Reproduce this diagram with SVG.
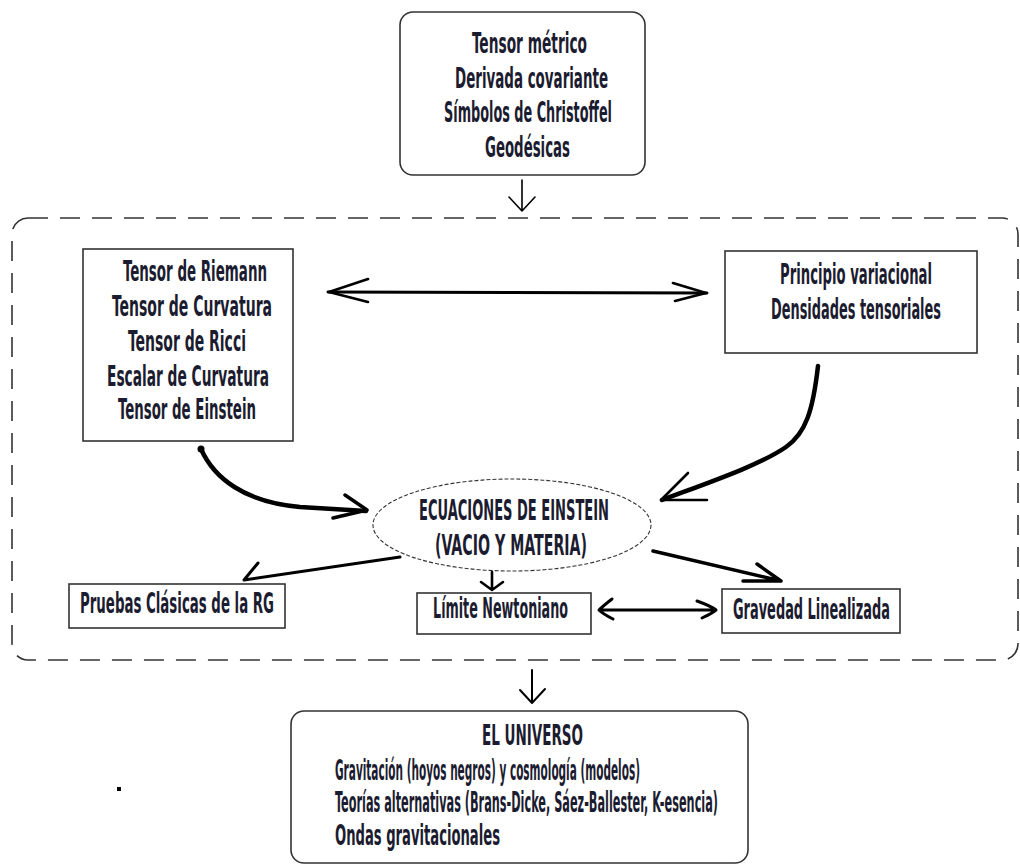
<svg xmlns="http://www.w3.org/2000/svg" width="1020" height="866" viewBox="0 0 1020 866">
<style>
.t{font-family:"DejaVu Sans Condensed","DejaVu Sans","Liberation Sans",sans-serif;font-size:28px;font-weight:bold;fill:#1c1c30;text-anchor:middle;}
.s{text-anchor:start;}
.box{fill:#fff;stroke:#333;stroke-width:1.6;}
.c{fill:none;stroke:#000;stroke-linecap:round;stroke-linejoin:round;}
</style>
<rect width="1020" height="866" fill="#fff"/>
<g id="container">
<rect x="12" y="218" width="1006" height="442" rx="16" fill="none" stroke="#333" stroke-width="1.6" stroke-dasharray="20 12"/>
</g>
<g id="top">
<rect class="box" x="400" y="12" width="245" height="163" rx="13"/>
<text class="t" transform="translate(529.5,53) scale(0.62,1)" textLength="185.5" lengthAdjust="spacingAndGlyphs">Tensor métrico</text>
<text class="t" transform="translate(531.5,88) scale(0.62,1)" textLength="246.8" lengthAdjust="spacingAndGlyphs">Derivada covariante</text>
<text class="t" transform="translate(528,122) scale(0.62,1)" textLength="271" lengthAdjust="spacingAndGlyphs">Símbolos de Christoffel</text>
<text class="t" transform="translate(527.5,157) scale(0.62,1)" textLength="137.1" lengthAdjust="spacingAndGlyphs">Geodésicas</text>
</g>
<g id="riemann">
<rect class="box" x="83" y="249" width="210" height="192"/>
<text class="t" transform="translate(195,281) scale(0.62,1)" textLength="232.3" lengthAdjust="spacingAndGlyphs">Tensor de Riemann</text>
<text class="t" transform="translate(192,316) scale(0.62,1)" textLength="258.1" lengthAdjust="spacingAndGlyphs">Tensor de Curvatura</text>
<text class="t" transform="translate(187,351) scale(0.62,1)" textLength="190.3" lengthAdjust="spacingAndGlyphs">Tensor de Ricci</text>
<text class="t" transform="translate(188,386) scale(0.62,1)" textLength="261.3" lengthAdjust="spacingAndGlyphs">Escalar de Curvatura</text>
<text class="t" transform="translate(187,419) scale(0.62,1)" textLength="222.6" lengthAdjust="spacingAndGlyphs">Tensor de Einstein</text>
</g>
<g id="principio">
<rect class="box" x="725" y="251" width="252" height="102"/>
<text class="t" transform="translate(856,284) scale(0.62,1)" textLength="245.2" lengthAdjust="spacingAndGlyphs">Principio variacional</text>
<text class="t" transform="translate(856,319) scale(0.62,1)" textLength="274.2" lengthAdjust="spacingAndGlyphs">Densidades tensoriales</text>
</g>
<g id="ecuaciones">
<ellipse cx="512" cy="525" rx="139" ry="46" fill="#fff" stroke="#333" stroke-width="1.1" stroke-dasharray="4 2"/>
<text class="t" transform="translate(514,520) scale(0.62,1)" textLength="306.5" lengthAdjust="spacingAndGlyphs">ECUACIONES DE EINSTEIN</text>
<text class="t" transform="translate(511,555) scale(0.62,1)" textLength="245.2" lengthAdjust="spacingAndGlyphs">(VACIO Y MATERIA)</text>
</g>
<g id="pruebas">
<rect class="box" x="69" y="584" width="216" height="44"/>
<text class="t" transform="translate(177,613) scale(0.62,1)" textLength="312.9" lengthAdjust="spacingAndGlyphs">Pruebas Clásicas de la RG</text>
</g>
<g id="limite">
<rect class="box" x="417" y="593" width="174" height="41"/>
<text class="t" transform="translate(500.5,618) scale(0.62,1)" textLength="217.7" lengthAdjust="spacingAndGlyphs">Límite Newtoniano</text>
</g>
<g id="gravedad">
<rect class="box" x="722" y="589" width="178" height="44"/>
<text class="t" transform="translate(811.5,619) scale(0.62,1)" textLength="253.2" lengthAdjust="spacingAndGlyphs">Gravedad Linealizada</text>
</g>
<g id="universo">
<rect class="box" x="291" y="711" width="457" height="152" rx="13"/>
<text class="t" transform="translate(532.5,745) scale(0.62,1)" textLength="162.9" lengthAdjust="spacingAndGlyphs">EL UNIVERSO</text>
<text class="t s" transform="translate(335,780) scale(0.62,1)" textLength="491.9" lengthAdjust="spacingAndGlyphs">Gravitación (hoyos negros) y cosmología (modelos)</text>
<text class="t s" transform="translate(335,812) scale(0.62,1)" textLength="617.7" lengthAdjust="spacingAndGlyphs">Teorías alternativas (Brans-Dicke, Sáez-Ballester, K-esencia)</text>
<text class="t s" transform="translate(335,845) scale(0.62,1)" textLength="266.1" lengthAdjust="spacingAndGlyphs">Ondas gravitacionales</text>
</g>
<g id="connectors">
<path class="c" stroke-width="1.6" d="M522,180 L522,210 M509,197 L522,211 L535,197"/>
<path class="c" stroke-width="3" d="M328,292 L707,293"/>
<path class="c" stroke-width="2.6" d="M368,279 L329,292 L368,302 M673,283 L706,293 L675,301"/>
<path class="c" stroke-width="4.5" d="M201,449 C214,478 244,502 300,507 L366,511"/>
<circle cx="201" cy="449" r="3.5" fill="#000"/>
<path class="c" stroke-width="3.5" d="M345,495 L367,510 L333,518"/>
<path class="c" stroke-width="4.5" d="M818,366 C813,410 806,433 786,447 C760,465 710,482 662,500"/>
<path class="c" stroke-width="2.6" d="M688,473 L661,500 L707,500"/>
<path class="c" stroke-width="3" d="M400,557 L244,580 M258,563 L244,580"/>
<path class="c" stroke-width="2.6" d="M492,572 L492,590 M481,582 L492,590 L503,582"/>
<path class="c" stroke-width="3" d="M599,610 L716,610 M612,599 Q603,606 599,610 Q603,614 613,619 M697,601 Q711,606 716,610 Q711,614 702,618"/>
<path class="c" stroke-width="3.5" d="M653,551 L781,581 M757,564 L781,581 L743,581"/>
<path class="c" stroke-width="2" d="M532,670 L532,703 M520,690 L532,703 L545,689"/>
</g>
<rect x="117" y="787" width="4" height="4" fill="#000"/>
</svg>
